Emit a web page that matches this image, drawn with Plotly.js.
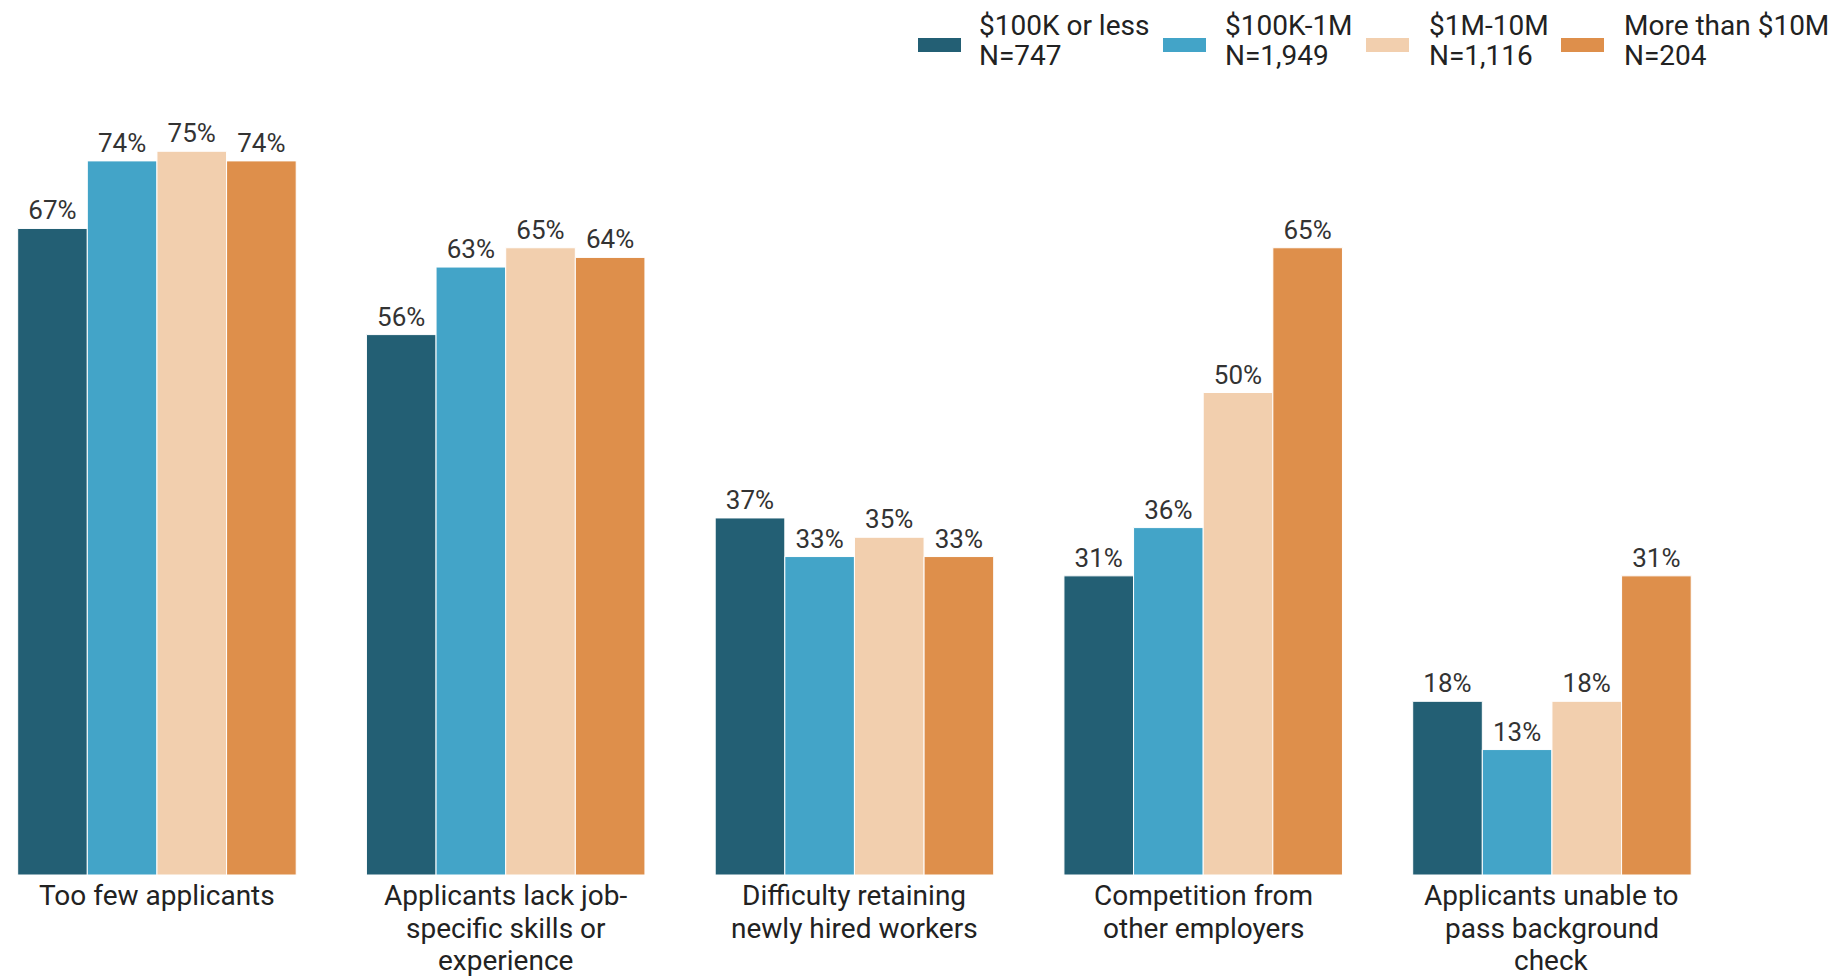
<!DOCTYPE html>
<html>
<head>
<meta charset="utf-8">
<script src="https://cdn.plot.ly/plotly-3.0.1.min.js"></script>
<style>html,body{margin:0;padding:0;background:#fff;}#chart{width:1832px;height:978px;}</style>
</head>
<body>
<div id="chart"></div>
<script>
const categories = [
  "Too few applicants",
  "Applicants lack job-<br>specific skills or<br>experience",
  "Difficulty retaining<br>newly hired workers",
  "Competition from<br>other employers",
  "Applicants unable to<br>pass background<br>check"
];
const seriesNames = [
  "$100K or less<br>N=747",
  "$100K-1M<br>N=1,949",
  "$1M-10M<br>N=1,116",
  "More than $10M<br>N=204"
];
const valuesUnder100K = [67, 56, 37, 31, 18];
const values100Kto1M = [74, 63, 33, 36, 13];
const values1Mto10M = [75, 65, 35, 50, 18];
const valuesOver10M = [74, 64, 33, 65, 31];
const seriesValues = [valuesUnder100K, values100Kto1M, values1Mto10M, valuesOver10M];
const colors = ["#235f74", "#43a4c8", "#f2cfae", "#de8f4b"];

// Layout geometry (pixels)
const W = 1832, H = 978, MT = 90, MB = 103;
const plotH = H - MT - MB;
const baseY = H - MB;
const pxToPaperY = py => (baseY - py) / plotH;
const pxToPaperX = px => px / W;

const traces = seriesValues.map((vals, i) => ({
  type: "bar",
  name: seriesNames[i],
  x: categories,
  y: vals,
  marker: {color: colors[i], line: {color: "#ffffff", width: 1}},
  texttemplate: "%{y}%",
  textposition: "outside",
  textfont: {family: "Roboto, sans-serif", size: 26, color: "#333333"},
  constraintext: "none",
  cliponaxis: false,
  hoverinfo: "skip",
  showlegend: false
}));

const annotations = [];
// Category labels, one annotation per line for tight line spacing
const lineCenters = [20.5, 53.5, 85.5];
categories.forEach(cat => {
  cat.split("<br>").forEach((line, j) => {
    annotations.push({
      text: line, x: cat, xref: "x", y: 0, yref: "y",
      xanchor: "center", yanchor: "middle", yshift: -lineCenters[j],
      showarrow: false, borderpad: 0, borderwidth: 0,
      font: {family: "Roboto, sans-serif", size: 28, color: "#222222"}
    });
  });
});

// Manual legend
const shapes = [];
const swatchX = [918, 1163, 1366, 1561];
const textX = [979, 1225, 1429, 1624];
seriesNames.forEach((nm, i) => {
  shapes.push({
    type: "rect", xref: "paper", yref: "paper",
    x0: pxToPaperX(swatchX[i]), x1: pxToPaperX(swatchX[i] + 43),
    y0: pxToPaperY(52), y1: pxToPaperY(38),
    fillcolor: colors[i], line: {width: 0}
  });
  nm.split("<br>").forEach((line, j) => {
    annotations.push({
      text: line, xref: "paper", yref: "paper",
      x: pxToPaperX(textX[i] - 2), y: pxToPaperY(j === 0 ? 25 : 55.5),
      xanchor: "left", yanchor: "middle", showarrow: false,
      font: {family: "Roboto, sans-serif", size: 28, color: "#222222"}
    });
  });
});

const layout = {
  width: W,
  height: H,
  margin: {l: 0, r: 0, t: MT, b: MB, pad: 0},
  paper_bgcolor: "#ffffff",
  plot_bgcolor: "#ffffff",
  barmode: "group",
  bargap: 0.2014,
  bargroupgap: 0,
  font: {family: "Roboto, sans-serif", color: "#222222"},
  xaxis: {
    type: "category",
    range: [-0.45, 4.803],
    showgrid: false,
    showline: false,
    zeroline: false,
    ticks: "",
    showticklabels: false,
    automargin: false
  },
  yaxis: {
    range: [0, plotH / 9.65],
    visible: false,
    showgrid: false,
    zeroline: false
  },
  showlegend: false,
  annotations: annotations,
  shapes: shapes
};

Plotly.newPlot("chart", traces, layout, {displayModeBar: false, staticPlot: true});
</script>
</body>
</html>
